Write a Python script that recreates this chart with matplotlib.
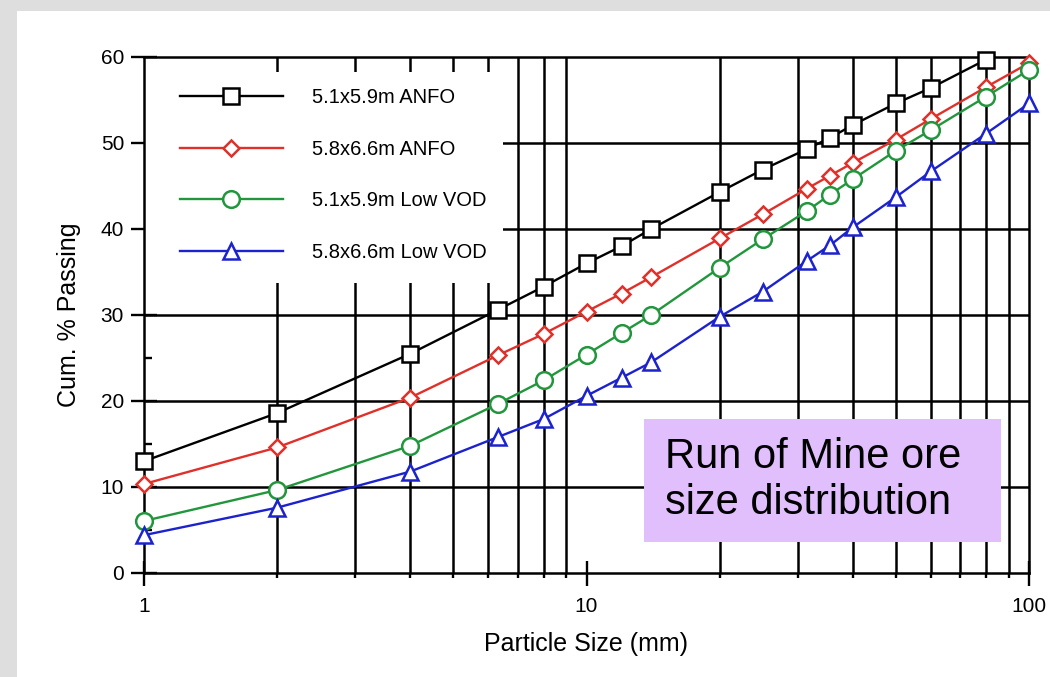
import numpy as np
import matplotlib.pyplot as plt
from matplotlib.patches import Rectangle
from matplotlib.ticker import FixedLocator, NullFormatter

plt.rcParams['font.family'] = ['Liberation Sans', 'DejaVu Sans']

# sieve sizes (mm) and cumulative % passing
sizes = [1, 2, 4, 6.3, 8, 10, 12, 14, 20, 25, 31.5, 35.5, 40, 50, 60, 80, 100]
anfo_51 = [13.0, 18.6, 25.5, 30.6, 33.3, 36.0, 38.0, 40.0, 44.3, 46.9, 49.3, 50.6, 52.1, 54.6, 56.4, 59.7]
anfo_58 = [10.35, 14.6, 20.4, 25.3, 27.8, 30.4, 32.5, 34.4, 38.9, 41.7, 44.7, 46.2, 47.7, 50.4, 52.8, 56.5, 59.3]
lowvod_51 = [6.05, 9.65, 14.8, 19.65, 22.4, 25.4, 27.9, 30.0, 35.5, 38.8, 42.1, 44.0, 45.8, 49.1, 51.5, 55.4, 58.5]
lowvod_58 = [4.4, 7.6, 11.8, 15.8, 17.9, 20.6, 22.7, 24.5, 29.8, 32.7, 36.3, 38.1, 40.2, 43.7, 46.7, 51.1, 54.6]

labels = ['5.1x5.9m ANFO', '5.8x6.6m ANFO', '5.1x5.9m Low VOD', '5.8x6.6m Low VOD']
colors = ['black', '#e0302a', '#22963c', '#1c22cc']
markers = ['s', 'D', 'o', '^']
msizes = [12, 8.5, 12, 11.5]

major_x = [1, 10, 100]
minor_x = [m * 10 ** k for k in (0, 1) for m in range(2, 10)]
grid_y = [10, 20, 30, 40, 50]

fig = plt.figure(figsize=(10.5, 6.77), dpi=100, facecolor='#dedede')
fig.patches.append(Rectangle((17 / 1050, 0), 1, 1 - 11 / 677, transform=fig.transFigure,
                             facecolor='white', edgecolor='none', zorder=-10))
ax = fig.add_axes([144 / 1050, 1 - 573 / 677, 885 / 1050, 516 / 677])

# grid drawn by hand so the legend patch can sit between grid and ticks
for x in minor_x:
    ax.axvline(x, color='black', lw=1.8, zorder=1)
for y in grid_y:
    ax.axhline(y, color='black', lw=1.8, zorder=1)

series = [anfo_51, anfo_58, lowvod_51, lowvod_58]
for vals, lab, c, m, ms in zip(series, labels, colors, markers, msizes):
    ax.plot(sizes[:len(vals)], vals, color=c, lw=1.7, marker=m, ms=ms,
            mfc='white', mec=c, mew=1.8, label=lab, zorder=3, clip_on=False)

ax.set_xscale('log')
ax.set_xlim(1, 100)
ax.set_ylim(0, 60)
ax.xaxis.set_major_locator(FixedLocator(major_x))
ax.set_xticklabels(['1', '10', '100'])
ax.xaxis.set_minor_locator(FixedLocator(minor_x))
ax.xaxis.set_minor_formatter(NullFormatter())
ax.set_yticks(range(0, 61, 10))
ax.yaxis.set_minor_locator(FixedLocator(range(5, 60, 10)))

for s in ax.spines.values():
    s.set_linewidth(1.8)
ax.tick_params(axis='x', which='major', direction='inout', length=18, width=1.7,
               labelsize=15, pad=8)
ax.tick_params(axis='x', which='minor', direction='out', length=3.6, width=1.7)
ax.tick_params(axis='y', which='major', direction='inout', length=18.7, width=1.7,
               labelsize=15, pad=5)
ax.tick_params(axis='y', which='minor', direction='in', length=5.8, width=1.7)

# white area behind the legend (grid shows through the top 15 px like ticks)
ax.add_patch(Rectangle((0, 0.562), 0.406, 1 - 0.562 - 15 / 516, transform=ax.transAxes,
                       facecolor='white', edgecolor='none', zorder=2))

leg = ax.legend(loc='upper left', bbox_to_anchor=(36 / 885, (573 - 88) / 516),
                frameon=False, fontsize=14.5, borderpad=0, borderaxespad=0,
                handlelength=5.1, handletextpad=1.45, labelspacing=1.62)
leg.set_zorder(5)

ax.set_xlabel('Particle Size (mm)', fontsize=18, labelpad=12)
ax.set_ylabel('Cum. % Passing', fontsize=18, labelpad=14)

ax.add_patch(Rectangle((0.565, 0.060), 0.403, 0.238, transform=ax.transAxes,
                       facecolor='#e1bffc', edgecolor='none', zorder=4))
ax.text(0.589, 0.180, 'Run of Mine ore\nsize distribution', transform=ax.transAxes,
        fontsize=30, va='center', ha='left', zorder=5)

plt.savefig('out.png', dpi=100, facecolor=fig.get_facecolor())
